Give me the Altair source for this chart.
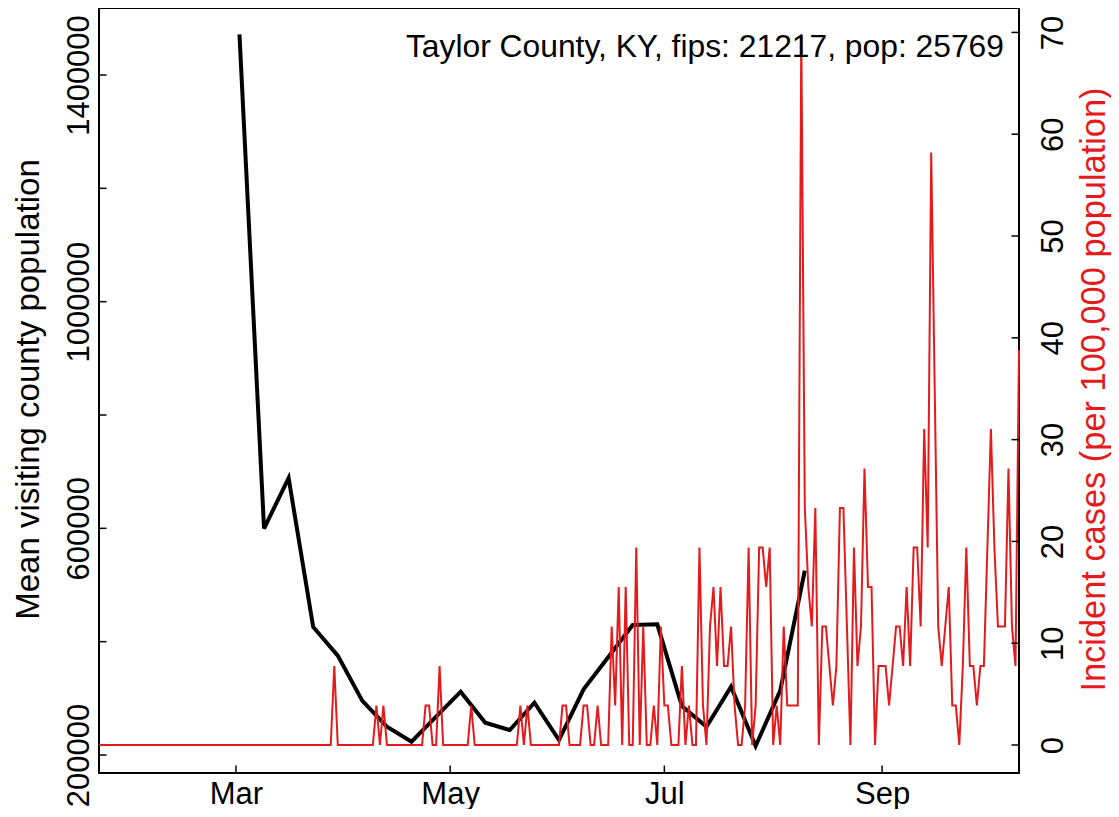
import altair as alt
import pandas as pd

FONT = "Liberation Sans"
RED = "#E41A1C"
FS = 31

# ---- weekly mean visiting county population (black line) ----
visit_dates = ["2020-03-02", "2020-03-09", "2020-03-16", "2020-03-23", "2020-03-30",
               "2020-04-06", "2020-04-13", "2020-04-20", "2020-04-27", "2020-05-04",
               "2020-05-11", "2020-05-18", "2020-05-25", "2020-06-01", "2020-06-08",
               "2020-06-15", "2020-06-22", "2020-06-29", "2020-07-06", "2020-07-13",
               "2020-07-20", "2020-07-27", "2020-08-03", "2020-08-10"]
visit_values = [1471600, 599700, 688800, 425900, 375400, 295500, 249900, 223500,
                267600, 311700, 257000, 244100, 292300, 226500, 315900, 372400,
                429400, 430600, 286500, 249900, 320500, 215900, 313500, 525200]

# ---- daily incident cases per 100,000 (red line), 2020-01-22 .. 2020-10-10 ----
inc_jan = [0, 0, 0, 0, 0, 0, 0, 0, 0, 0]
inc_feb = [0, 0, 0, 0, 0, 0, 0, 0, 0, 0, 0, 0, 0, 0, 0, 0, 0, 0, 0, 0,
           0, 0, 0, 0, 0, 0, 0, 0, 0]
inc_mar = [0, 0, 0, 0, 0, 0, 0, 0, 0, 0, 0, 0, 0, 0, 0, 0, 0, 0, 0, 0,
           0, 0, 0, 0, 0, 0, 0, 0, 7.76, 0, 0]
inc_apr = [0, 0, 0, 0, 0, 0, 0, 0, 0, 3.88, 0, 3.88, 0, 0, 0, 0, 0, 0, 0, 0,
           0, 0, 0, 3.88, 3.88, 0, 0, 7.76, 0, 0]
inc_may = [0, 0, 0, 0, 0, 0, 3.88, 0, 0, 0, 0, 0, 0, 0, 0, 0, 0, 0, 0, 0,
           3.88, 0, 3.88, 0, 0, 0, 0, 0, 0, 0, 0]
inc_jun = [0, 3.88, 3.88, 0, 0, 0, 0, 3.88, 3.88, 0, 0, 3.88, 0, 0, 0, 11.64,
           3.88, 15.52, 0, 15.52, 0, 0, 19.40, 0, 11.64, 0, 0, 3.88, 0, 11.64]
inc_jul = [3.88, 3.88, 0, 0, 0, 7.76, 0, 3.88, 0, 0, 19.40, 3.88, 0, 11.64, 15.52,
           7.76, 15.52, 7.76, 7.76, 11.64, 3.88, 0, 0, 3.88, 19.40, 0, 3.88, 19.40,
           19.40, 15.52, 19.40]
inc_aug = [0, 3.88, 0, 11.64, 3.88, 3.88, 3.88, 3.88, 69.85, 23.28, 15.52, 11.64,
           23.28, 0, 11.64, 11.64, 7.76, 3.88, 7.76, 23.28, 23.28, 11.64, 0, 19.40,
           7.76, 11.64, 27.16, 15.52, 15.52, 0, 7.76]
inc_sep = [7.76, 7.76, 3.88, 7.76, 11.64, 11.64, 7.76, 15.52, 7.76, 19.40, 19.40,
           11.64, 31.05, 19.40, 58.21, 34.93, 11.64, 7.76, 11.64, 15.52, 3.88, 3.88,
           0, 7.76, 19.40, 7.76, 7.76, 3.88, 7.76, 7.76]
inc_oct = [19.40, 31.05, 19.40, 11.64, 11.64, 11.64, 27.16, 11.64, 7.76, 38.81]

# ---- text & axis values ----
annotation_text = "Taylor County, KY, fips: 21217, pop: 25769"
left_title = "Mean visiting county population"
right_title = "Incident cases (per 100,000 population)"
month_tick_dates = ["2020-03-01", "2020-05-01", "2020-07-01", "2020-09-01"]
left_tick_values = [200000, 400000, 600000, 800000, 1000000, 1200000, 1400000]
left_label_values = [200000, 600000, 1000000, 1400000]
right_tick_values = [0, 10, 20, 30, 40, 50, 60, 70]

W, H = 920, 765
TICK = 7.5

rates = inc_jan + inc_feb + inc_mar + inc_apr + inc_may + inc_jun + inc_jul + inc_aug + inc_sep + inc_oct
dates = pd.date_range("2020-01-22", periods=len(rates), freq="D").strftime("%Y-%m-%d")
cases_df = pd.DataFrame({"date": dates, "rate": rates})
visit_df = pd.DataFrame({"date": visit_dates, "value": visit_values})


def dt(s):
    y, m, d = map(int, s.split("-"))
    return alt.DateTime(year=y, month=m, date=d, utc=True)


x_scale = alt.Scale(type="utc", domain=[dt("2020-01-22"), dt("2020-10-10")])
x_axis = alt.Axis(values=[dt(s) for s in month_tick_dates], format="%b", title=None,
                  labelAngle=0, labelAlign="center", labelBaseline="alphabetic",
                  labelPadding=30, labelFlush=False, labelOverlap=False)
x_enc = alt.X("date:T", scale=x_scale, axis=x_axis)

yb_scale = alt.Scale(domain=[168235, 1518231], nice=False, zero=False)
yb_axis = alt.Axis(orient="left", values=left_label_values, format="d", title=left_title,
                   labelAngle=270, labelAlign="center", labelBaseline="alphabetic",
                   labelPadding=11, labelOverlap=False, labelFlush=False,
                   titleAngle=270, titleX=-61, titleY=381, titleAlign="center",
                   titleBaseline="alphabetic", titleFontSize=33)
yb_enc = alt.Y("value:Q", scale=yb_scale, axis=yb_axis)

yr_scale = alt.Scale(domain=[-2.75, 72.4], nice=False, zero=False)
yr_axis = alt.Axis(orient="right", values=right_tick_values, title=right_title,
                   titleColor=RED, labelAngle=270, labelAlign="center",
                   labelBaseline="alphabetic", labelPadding=43, labelOverlap=False,
                   labelFlush=False, titleAngle=270, titleX=85, titleY=381,
                   titleAlign="center", titleBaseline="alphabetic", titleFontSize=34.4)
yr_enc = alt.Y("rate:Q", scale=yr_scale, axis=yr_axis)

black_line = alt.Chart(visit_df).mark_line(color="black", strokeWidth=4).encode(x=x_enc, y=yb_enc)
left_ticks = alt.Chart(pd.DataFrame({"value": left_tick_values})).mark_rule(
    color="black", strokeWidth=1.5).encode(y=yb_enc, x=alt.value(0), x2=alt.value(TICK))
x_ticks = alt.Chart(pd.DataFrame({"date": month_tick_dates})).mark_rule(
    color="black", strokeWidth=1.5).encode(x=x_enc, y=alt.value(H - TICK), y2=alt.value(H))

red_line = alt.Chart(cases_df).mark_line(color=RED, strokeWidth=2).encode(x=x_enc, y=yr_enc)
right_ticks = alt.Chart(pd.DataFrame({"rate": right_tick_values})).mark_rule(
    color="black", strokeWidth=1.5).encode(y=yr_enc, x=alt.value(W - TICK), x2=alt.value(W))

annotation = alt.Chart(pd.DataFrame({"label": [annotation_text]})).mark_text(
    font=FONT, fontSize=31.8, align="right", baseline="alphabetic", color="black"
).encode(x=alt.value(905), y=alt.value(49), text="label:N")

left_group = alt.layer(black_line, left_ticks, x_ticks)
right_group = alt.layer(red_line, right_ticks)

chart = alt.layer(left_group, right_group, annotation).resolve_scale(
    y="independent"
).properties(
    width=W, height=H,
    autosize=alt.AutoSizeParams(type="none"),
    padding={"left": 91, "top": 0, "right": 92, "bottom": 36},
    background="white",
).configure_view(
    stroke="black", strokeWidth=2
).configure_axis(
    labelFont=FONT, titleFont=FONT, labelFontSize=FS, titleFontSize=FS,
    titleFontWeight="normal", labelColor="black", grid=False, domain=False,
    ticks=False, tickSize=0
)

chart.save("out.html", embed_options={"renderer": "svg", "actions": False})
